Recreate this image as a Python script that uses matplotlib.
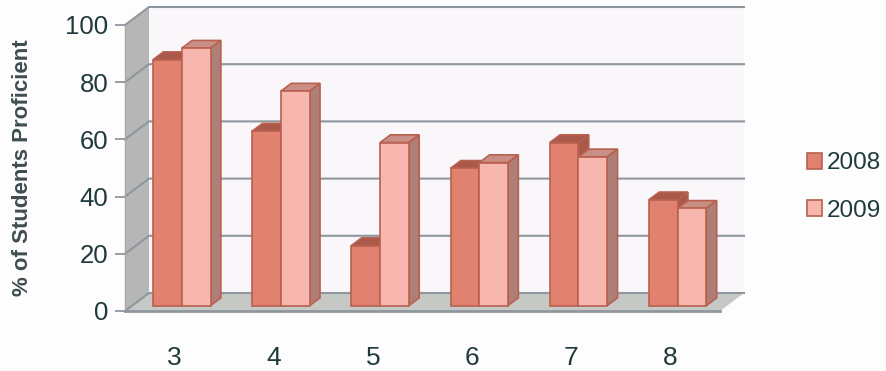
import matplotlib
matplotlib.use("Agg")
import matplotlib.pyplot as plt
from matplotlib.patches import Patch

grades = ['3', '4', '5', '6', '7', '8']
years = ['2008', '2009']
scores_2008 = [86, 61, 21, 48, 57, 37]
scores_2009 = [90, 75, 57, 50, 52, 34]
yticks = [0, 20, 40, 60, 80, 100]

# colours: front, top, side
STYLE_2008 = ('#e0826f', '#a9594a', '#a9594a')
STYLE_2009 = ('#f8b7ae', '#c98f86', '#ae7f76')
EDGE = '#b9604e'
GRID = '#8f979e'
TEXT = '#1f3a3c'

# fake 3d: depth of the box in data units (one category = 99.2 px, one % = 2.86 px)
DX = 24 / 99.2
DY = 18 / 2.86
BAR_W = 0.29


def shift(x, y, depth):
    return x + DX * depth, y + DY * depth


def bar3d(ax, x, w, h, colors):
    # bars stand about a third of the way into the floor
    d0, d1 = 0.3, 0.73
    x0, y0 = shift(x, 0, d0)
    x1 = x0 + w
    y1 = y0 + h
    ox = DX * (d1 - d0)
    oy = DY * (d1 - d0)
    kw = dict(edgecolor=EDGE, linewidth=1.2, clip_on=False, zorder=5)
    ax.fill([x0, x1, x1 + ox, x0 + ox], [y1, y1, y1 + oy, y1 + oy], facecolor=colors[1], **kw)
    ax.fill([x1, x1 + ox, x1 + ox, x1], [y0, y0 + oy, y1 + oy, y1], facecolor=colors[2], **kw)
    ax.fill([x0, x1, x1, x0], [y0, y0, y1, y1], facecolor=colors[0], **kw)


fig = plt.figure(figsize=(8.87, 3.71), dpi=100, facecolor='#fdfdfd')
plt.rcParams['font.family'] = ['Liberation Sans', 'DejaVu Sans']
ax = fig.add_axes([125 / 887, 1 - 311 / 371, 595 / 887, 286 / 371])
ax.set_xlim(-0.5, 5.5)
ax.set_ylim(0, 100)
ax.patch.set_visible(False)
for s in ax.spines.values():
    s.set_visible(False)

xl, xr = -0.5, 5.5
top = 100

# back wall, left wall, floor
ax.fill([xl + DX, xr + DX, xr + DX, xl + DX], [DY, DY, top + DY, top + DY],
        facecolor='#f9f7fa', edgecolor='none', clip_on=False, zorder=1)
ax.fill([xl, xl + DX, xl + DX, xl], [0, DY, top + DY, top],
        facecolor='#b6b6b6', edgecolor='none', clip_on=False, zorder=1)
ax.fill([xl, xr, xr + DX, xl + DX], [0, 0, DY, DY],
        facecolor='#c6c8c5', edgecolor='none', clip_on=False, zorder=1)

# grid lines run across the left wall and along the back wall
for v in yticks:
    ax.plot([xl, xl + DX, xr + DX], [v, v + DY, v + DY], color=GRID, lw=1.5,
            clip_on=False, zorder=2, solid_joinstyle='miter')
ax.plot([xl, xr], [0, 0], color=GRID, lw=2, clip_on=False, zorder=4)
ax.plot([xl, xl], [0, top], color='#a8a8a8', lw=1, clip_on=False, zorder=2)

for i in range(len(grades)):
    bar3d(ax, i - BAR_W, BAR_W, scores_2008[i], STYLE_2008)
    bar3d(ax, i, BAR_W, scores_2009[i], STYLE_2009)

ax.set_xticks(range(len(grades)))
ax.set_xticklabels(grades)
ax.set_yticks(yticks)
ax.tick_params(axis='x', length=0, pad=25, labelsize=19, labelcolor=TEXT)
ax.tick_params(axis='y', length=7, width=1.3, color=GRID, pad=5, labelsize=18.5, labelcolor=TEXT)

ax.set_ylabel('% of Students Proficient', fontsize=16, fontweight='bold', color='#3f4d52', labelpad=0)
ax.yaxis.set_label_coords(-0.155, 0.5)

handles = [Patch(facecolor=STYLE_2008[0], edgecolor=EDGE, linewidth=1.2),
           Patch(facecolor=STYLE_2009[0], edgecolor=EDGE, linewidth=1.2)]
fig.legend(handles, years, loc='center left', bbox_to_anchor=(807 / 887, 1 - 187 / 371),
           frameon=False, fontsize=17.5, labelcolor=TEXT, handlelength=0.62, handleheight=0.62,
           handletextpad=0.18, labelspacing=1.05, borderpad=0, borderaxespad=0)

fig.savefig('out.png', dpi=100, facecolor=fig.get_facecolor())
